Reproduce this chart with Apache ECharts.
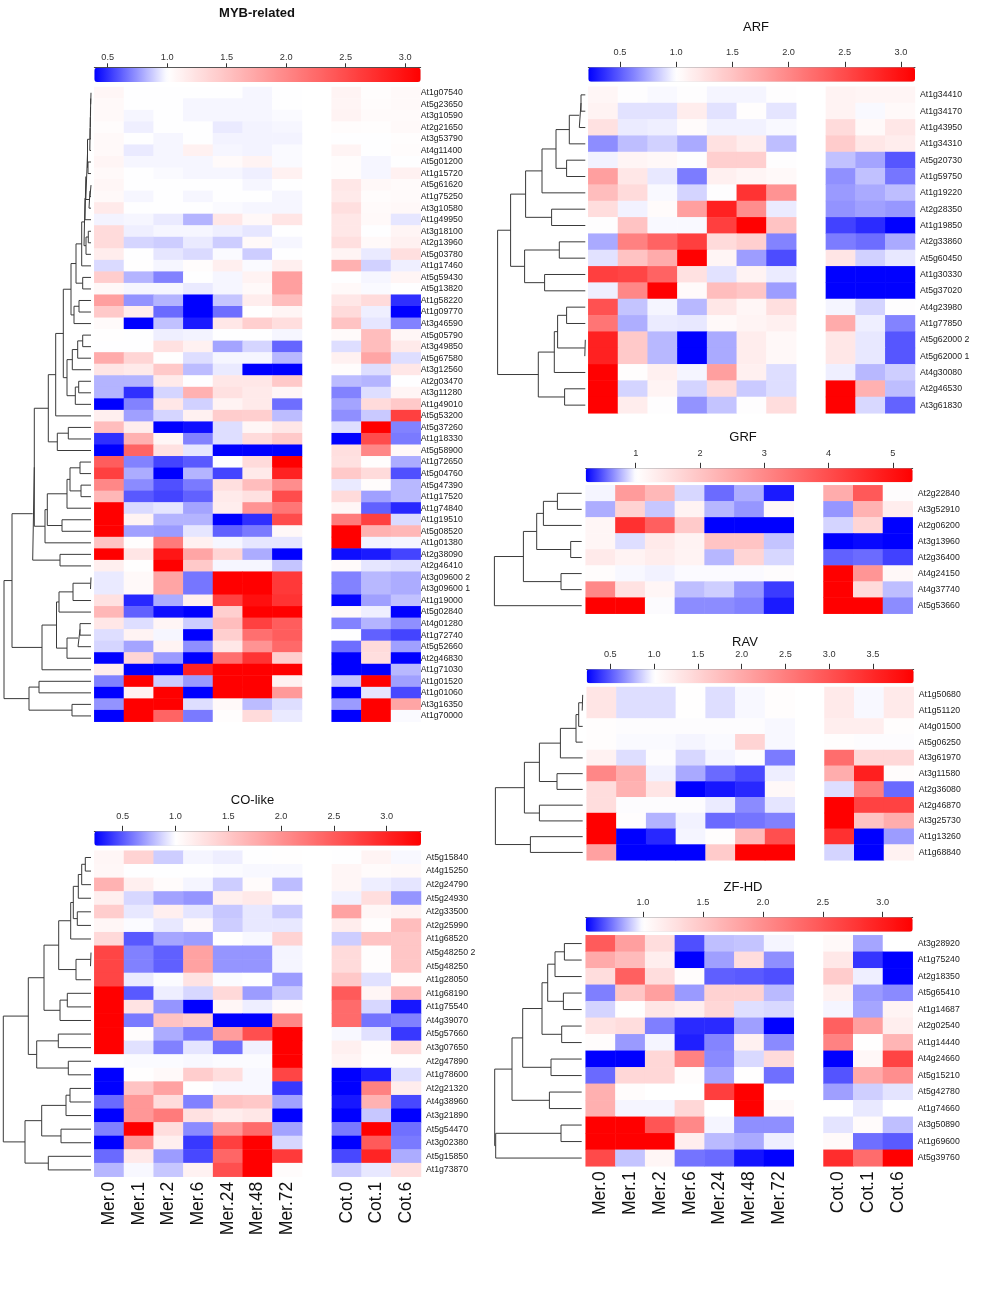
<!DOCTYPE html>
<html><head><meta charset="utf-8">
<style>html,body{margin:0;padding:0;background:#fff}#c{width:1004px;height:1299px}</style>
<script src="https://cdn.jsdelivr.net/npm/echarts@6/dist/echarts.min.js"></script>
</head><body><div id="c"></div>
<script>
const conditions = ['Mer.0','Mer.1','Mer.2','Mer.6','Mer.24','Mer.48','Mer.72','','Cot.0','Cot.1','Cot.6'];

// ---------- MYB-related ----------
const mybGenes = ['At1g07540','At5g23650','At3g10590','At2g21650','At3g53790','At4g11400','At5g01200','At1g15720','At5g61620','At1g75250','At3g10580','At1g49950','At3g18100','At2g13960','At5g03780','At1g17460','At5g59430','At5g13820','At1g58220','At1g09770','At3g46590','At5g05790','At3g49850','At5g67580','At3g12560','At2g03470','At3g11280','At1g49010','At5g53200','At5g37260','At1g18330','At5g58900','At1g72650','At5g04760','At5g47390','At1g17520','At1g74840','At1g19510','At5g08520','At1g01380','At2g38090','At2g46410','At3g09600 2','At3g09600 1','At1g19000','At5g02840','At4g01280','At1g72740','At5g52660','At2g46830','At1g71030','At1g01520','At1g01060','At3g16350','At1g70000'];
const mybValues = [
[1.07,1,1,1,1,.98,1,1.09,1.02,1.05],
[1.05,1,1,.98,.98,.98,1,1.08,1.03,1.05],
[1.05,.98,1,.98,.98,.98,.99,1.1,1.04,1.04],
[1.03,.96,1,1,.95,.97,.98,1.03,1.02,1.05],
[1.05,1,.98,1,.97,.97,.97,1,1,1.02],
[1.05,.95,.98,1.12,.98,.97,.99,1.09,1,1.03],
[1.08,.98,.98,.98,1.04,1.1,.99,1.03,.98,1],
[1.05,1,.99,.98,.98,.96,1.12,1.03,.98,1.12],
[1.07,1,1,1,1,.98,1,1.2,1.06,1.04],
[1.05,.98,1,.98,1,1,.98,1.18,1.03,1.04],
[1.18,1,1,1,.99,.98,.98,1.27,1.04,1.06],
[.97,.98,.95,.82,1.2,1.06,1.22,1.2,1.05,.94],
[1.3,.96,.98,.98,.96,.94,1,1.2,1,1.08],
[1.3,.9,.88,.95,.88,1.05,.98,1.27,1.05,1.12],
[1.15,1,.94,.91,.99,.88,1,1.09,.95,1.27],
[.91,1.01,.98,1.03,1.13,.99,1.13,1.65,.89,.96],
[1.42,.82,.7,1,.98,1.1,1.8,1,.98,1.08],
[1.06,.98,.98,.95,.98,1.05,1.8,1.05,.99,1],
[1.8,.74,.82,.38,.86,1.15,1.55,1.2,1.3,.5],
[1.45,1.15,.64,.38,.65,1.01,1.08,1.3,.96,.38],
[1.04,.38,.85,.45,1.2,1.4,1.28,1.5,.94,.7],
[1.01,1,.96,.97,1,1,.98,1.04,1.55,1.07],
[1,1,1.25,1.12,.78,.9,.63,.92,1.55,1.18],
[1.7,1.35,1.01,.92,.98,.98,.83,1.12,1.75,.92],
[1.22,1.18,1.45,.84,.95,.38,.38,1.03,.92,1.2],
[.82,.82,1.18,1,1.2,1.2,1.45,.84,.82,1],
[.82,.5,.9,1.65,1.25,1.18,1.07,.7,.92,1.08],
[.38,.7,1.2,.89,1.1,1.18,.65,.78,1.3,1.45],
[1.13,.77,.9,1.12,1.42,1.4,.84,.73,.87,2.6],
[1.55,1.15,.38,.42,.92,1.07,1.2,.92,3.13,.7],
[.5,1.65,1.07,.7,.92,1.3,1.45,.38,2.5,.68],
[.38,2.3,1.25,.94,.38,.38,.38,1.27,2,1.06],
[2.35,.7,.55,.6,1,1.3,3.13,1.25,1.02,.8],
[2.6,.8,.38,.82,.55,1.18,2.85,1.45,1.3,.58],
[2,.72,.58,.68,1.27,1.55,1.95,.95,1.03,.83],
[1.6,.6,.55,.62,1.18,1.25,2.5,1.3,.77,.83],
[3.13,.91,.94,.78,1.15,1.9,2.15,1.07,.62,.48],
[3.13,1.1,.82,.82,.38,.5,2.5,2.1,2.6,.91],
[3.13,.77,.76,.94,.62,.68,1.06,3.13,1.65,1.6],
[1.5,1.02,2.1,1.12,.98,.94,.94,3.13,.97,.98],
[3.13,1.22,2.95,1.75,1.35,.8,.38,.42,.45,.55],
[1.13,1.01,3.13,1.45,.98,.98,.86,1.04,.94,.92],
[.95,1.05,1.75,.67,3.13,3.13,2.65,.7,.83,.8],
[.95,1.05,1.75,.67,3.13,3.13,2.65,.7,.83,.8],
[1.25,.48,.8,1.13,2.6,3,2.7,.4,.77,.85],
[1.6,.62,.42,.38,1.4,3.13,3.13,1.05,.96,.38],
[1.2,.92,1.08,.88,1.55,2.6,2.35,.7,.82,.73],
[.92,1.1,.98,.38,1.4,2.2,2.35,1,.62,.55],
[.9,.78,1.1,.73,1.2,1.9,2.25,.65,1.3,.77],
[.38,1.35,.76,.38,2.2,2.7,1.4,.38,1.28,.38],
[1.15,.38,.38,2.85,3.13,3.13,3.13,.38,.38,.83],
[.7,3.13,.88,.76,3.13,3.13,1.12,.86,3.13,.77],
[.38,1.1,3.13,.38,3.13,3.13,1.85,.38,.94,.56],
[.74,3.13,3.13,.92,1.05,.84,.92,.76,3.13,1.75],
[.38,3.13,2.3,.68,1.02,1.3,.95,.38,3.13,.99]];
const mybRange = [0.387,3.13];
const mybTicks = [0.5,1,1.5,2,2.5,3];
// dendrogram: [height, upper, lower]; 0 is the next leaf
const mybTree = [87,
 [79,
  [58.3,
   [56.7,
    [42.7,
     [35.3,
      [27.7,
       [20,
        [15,
         [9.3,
          [7,
           [6,[5.2,[3.5,[1.2,[.9,[.7,[.5,[.3,0,0],0],0],0],0],[3,0,0]],[2,[1,0,0],0]],0],
           [5,[2.7,0,0],0]],
          0],
         [8.3,0,0]],
        [17,[12,0,0],0]],
       [24,[18.7,[13.3,[8.3,0,0],0],0],[15.7,[12.3,0,0],0]]],
      0],
     [33.7,[22.7,0,0],0]],
    [46,[43.7,[24,[21,[11,0,0],[10,0,0]],0],[29,0,0]],0]],
   [31,0,0]],
  [49,[34.5,[32,[18,[.5,0,0],0],0],[24,[13,[11,0,0],0],0]],0]],
 [62,[52,0,0],[19,0,0]]];

// ---------- CO-like ----------
const coGenes = ['At5g15840','At4g15250','At2g24790','At5g24930','At2g33500','At2g25990','At1g68520','At5g48250 2','At5g48250','At1g28050','At1g68190','At1g75540','At4g39070','At5g57660','At3g07650','At2g47890','At1g78600','At2g21320','At4g38960','At3g21890','At5g54470','At3g02380','At5g15850','At1g73870'];
const coValues = [
[1.08,1.4,.85,.97,.95,1,1.01,1,1.1,.98],
[1.07,1,1,1,.99,.98,.98,1.08,1.04,1.06],
[1.7,1.15,1.04,.97,.85,1.04,.8,1.08,.95,.92],
[1.15,.88,.72,.68,1.15,1.2,1.05,.96,1.3,.68],
[1.45,.93,1.15,.92,.83,.93,.84,1.85,1.07,1.12],
[1.08,.99,.93,1.06,.85,.93,.93,1.17,1.02,1.6],
[1.35,.5,.73,.7,1.01,.98,1.4,.85,1.55,1.52],
[2.7,.62,.52,1.85,.68,.68,.97,1.33,1.02,1.52],
[2.7,.62,.52,1.85,.68,.68,.97,1.33,1.02,1.52],
[2.7,.94,.99,1.25,.99,1,.7,1.5,.91,1.03],
[3.33,.5,.95,.88,1.35,.7,.83,2.5,1.08,1.65],
[3.33,1.25,.68,.23,1.08,.95,1.05,2.35,.88,.3],
[3.33,.6,1.55,1.45,.23,.23,2.1,2.35,.58,.62],
[3.33,1.03,.75,.6,1.9,2.6,3.33,.98,.91,.4],
[3.33,.91,.62,.92,.57,.96,3.33,1.13,1.03,1.32],
[1,.99,.99,.98,.99,.99,3.33,1.1,1.02,1.02],
[.23,1.01,1.06,1.45,1.3,.98,2.7,.23,.32,.9],
[.23,1.55,1.85,1.01,.98,.98,.4,.23,2.15,1.17],
[.55,1.95,1.32,.62,1.55,1.5,.72,.3,1.7,.45],
[.23,1.95,2.2,1.27,1.17,1.22,.23,.23,.83,.23],
[.62,3.33,1.3,.65,1.95,2.35,.72,.6,3.33,.57],
[.23,1.95,1.15,.4,2.75,3.33,.88,.23,2.5,.6],
[.55,1.2,.7,.45,2.4,3.33,2.8,.45,3,.75],
[.78,.98,.83,1.12,2.6,3.33,1.03,.85,.93,1.3]];
const coRange = [0.231,3.325];
const coTicks = [0.5,1,1.5,2,2.5,3];
const coTree = [87.7,
 [62.7,
  [47,
   [32.3,
    [20.3,[17.7,[12.7,[9.3,[5.7,0,0],0],0],[13.7,0,0]],0],
    [15,[.5,0,0],0]],
   [31,[23.7,0,0],0]],
  [54.3,[32.7,0,0],[22.7,0,0]]],
 [66,[49.3,[25,[21,0,0],0],[30,0,0]],[42.7,0,0]]];

// ---------- ARF ----------
const arfGenes = ['At1g34410','At1g34170','At1g43950','At1g34310','At5g20730','At1g59750','At1g19220','At2g28350','At1g19850','At2g33860','At5g60450','At1g30330','At5g37020','At4g23980','At1g77850','At5g62000 2','At5g62000 1','At4g30080','At2g46530','At3g61830'];
const arfValues = [
[1.07,1,.98,1,.97,.97,1,1.1,1.08,1.08],
[1.1,.91,.91,1.15,.91,1.02,.92,1.1,.98,1.05],
[1.25,.94,.95,1.03,.96,.96,.98,1.3,1.05,1.2],
[.65,.8,.86,.74,1.25,1.15,.8,1.42,1.2,1.15],
[.96,1.08,1.06,1,1.4,1.4,1,.81,.72,.48],
[1.8,1.2,.93,.6,1.12,1.08,1.05,.66,.81,.58],
[1.55,1.3,.98,.87,1.01,2.7,1.9,.69,.74,.8],
[1.28,.96,1.03,1.8,2.85,1.95,.94,.67,.71,.68],
[1,1.5,.98,.98,2.6,3.12,1.5,.42,.35,.22],
[.74,2.05,2.3,2.6,1.3,1.4,.62,.6,.55,.74],
[.91,1.5,1.7,3.12,1.08,.7,.45,1.22,.86,.93],
[2.6,2.55,2.3,1.25,.91,1.1,.94,.22,.22,.22],
[.95,2,3.12,1.04,1.55,1.48,.7,.22,.22,.22],
[2.45,.82,.97,.78,1.2,1.07,1.27,.97,.87,1.01],
[2.15,.75,.94,.93,1.05,1.09,1.12,1.7,.95,.62],
[2.85,1.45,.78,.22,.74,1.15,1.06,1.2,.93,.48],
[2.85,1.45,.78,.22,.74,1.15,1.06,1.2,.93,.48],
[3.12,1.02,1.12,.97,1.8,1.12,.9,.95,.78,.85],
[3.12,.87,1.09,.87,1.3,.84,.9,3.12,1.65,.8],
[3.12,1.15,1,.67,.82,1,1.28,3.12,.88,.52]];
const arfRange = [0.218,3.125];
const arfTicks = [0.5,1,1.5,2,2.5,3];
const arfTree = [87.7,
 [74.7,
  [59.7,[43.3,[29.3,[16,[6,[4.3,0,0],0],0],[18.7,0,0]],0],[33.7,0,0]],
  [60.7,[26,0,0],[40.7,0,0]]],
 [47,[31,[27.7,[18.7,0,0],[.5,0,0]],0],[20.7,0,0]]];

// ---------- GRF ----------
const grfGenes = ['At2g22840','At3g52910','At2g06200','At3g13960','At2g36400','At4g24150','At4g37740','At5g53660'];
const grfValues = [
[.97,2.7,2.2,.88,.55,.75,.3,2.4,3.8,1.02],
[.75,1.75,.83,1.2,.78,.68,1.12,.68,2.3,1.3],
[1.15,4.5,3.7,1.9,.22,.22,.22,.87,1.7,.22],
[1.15,.9,1.35,1.2,2,2,.82,.22,.25,.22],
[1.35,1.2,1.3,1.2,.78,1.7,.88,.52,.55,.42],
[1.05,.98,.96,.99,.99,.99,1.02,5.31,2.8,1.12],
[3,1.5,1.15,.8,.85,.68,.4,5.31,1.6,.8],
[5.31,5.31,1,.65,.65,.62,.3,5.31,5.31,.65]];
const grfRange = [0.222,5.31];
const grfTicks = [1,2,3,4,5];
const grfTree = [87.3,
 [58.3,[45,[38.3,[24.3,0,0],0],[11,0,0]],[20.7,0,0]],
 0];

// ---------- RAV ----------
const ravGenes = ['At1g50680','At1g51120','At4g01500','At5g06250','At3g61970','At3g11580','At2g36080','At2g46870','At3g25730','At1g13260','At1g68840'];
const ravValues = [
[1.3,.9,.9,1.01,.9,.98,1.02,1.25,.98,1.25],
[1.3,.9,.9,1.01,.9,.98,1.02,1.25,.98,1.25],
[1.03,1,1,1,1,1,.98,1.2,1.2,1.03],
[1.03,.99,.99,.97,.99,1.5,.98,1.02,1,1],
[1.15,.9,1,.88,.97,1,.6,2.7,1.45,1.45],
[2.4,1.95,.96,.74,.55,.45,.95,1.95,3.6,1.04],
[1.4,1.9,1.3,.23,.3,.35,1.08,.9,2.5,.55],
[1.4,1,1,1,.94,.65,.92,3.965,3.2,3.2],
[3.965,1.03,.77,.96,.55,.58,.62,3.965,1.7,1.95],
[3.965,.23,.35,.97,1.02,1.8,3.05,3.4,.23,.7],
[2.1,.23,.23,.23,1.6,3.965,3.965,.87,.23,1.15]];
const ravRange = [0.23,3.965];
const ravTicks = [0.5,1,1.5,2,2.5,3,3.5];
const ravTree = [87.3,
 [58.3,
  [43.3,[22.3,[6.7,[4,[.5,0,0],0],0],0],[25.7,0,0]],
  [43.3,0,0]],
 [52.3,0,0]];

// ---------- ZF-HD ----------
const zfGenes = ['At3g28920','At1g75240','At2g18350','At5g65410','At1g14687','At2g02540','At1g14440','At4g24660','At5g15210','At5g42780','At1g74660','At3g50890','At1g69600','At5g39760'];
const zfValues = [
[2.45,1.85,1.3,.67,.88,.89,.98,1.05,.83,1],
[1.75,1.6,1.15,.52,.82,1.3,.79,1.2,.62,.52],
[1.3,2.4,1.3,1.02,.7,.69,.67,1.45,.97,.52],
[.76,1.5,1.85,.81,1.4,1.4,.87,1.13,.81,.78],
[.92,1.01,1.22,1.15,1.35,.94,.93,.98,.83,1.1],
[1.25,1.3,.76,.6,.6,.82,.52,2.4,1.85,1.15],
[1.02,.81,.98,.58,.77,1.12,.78,2.1,1.01,1.65],
[.52,.52,1.35,2.1,.78,.93,1.32,.52,1.07,2.65],
[.72,1.35,1.35,1.02,.83,1.01,.73,.68,1.75,2],
[1.7,1.02,1,1,2.7,3.25,1,.82,.91,.95],
[1.7,.98,.98,1.35,1,3.25,1.05,1,.96,1],
[3.25,3.25,2.5,2.05,.98,.79,.79,.95,1.03,.88],
[3.25,3.25,3.25,1.15,.87,.84,.97,1.04,.73,.69],
[2.6,.89,1.08,.74,.72,.56,.52,2.85,2.3,3.25]];
const zfRange = [0.522,3.25];
const zfTicks = [1,1.5,2,2.5,3];
const zfTree = [87,
 [69.7,
  [59,
   [39.7,[34,[26.7,[17.3,0,0],0],[18.3,0,0]],[20,0,0]],
   [30.7,0,0]],
  [32.3,0,0]],
 [86,[20.7,0,0],0]];

// ---------- assembly ----------
const panels = [
 {title:'MYB-related',bold:true,tx:257,ty:13,genes:mybGenes,values:mybValues,range:mybRange,ticks:mybTicks,tree:mybTree,digits:1,
  left:94.3,right:420.7,top:87,bottom:721.7,barTop:67.7,barH:14.3,leaf:91,gap:0,xlabels:false,tickLen:4.4,tickGap:5},
 {title:'CO-like',tx:252.5,ty:800,genes:coGenes,values:coValues,range:coRange,ticks:coTicks,tree:coTree,digits:1,
  left:94.3,right:421,top:850.7,bottom:1176.7,barTop:831.3,barH:14.4,leaf:91,gap:5,xlabels:true,tickLen:5.5,tickGap:9},
 {title:'ARF',tx:756,ty:27,genes:arfGenes,values:arfValues,range:arfRange,ticks:arfTicks,tree:arfTree,digits:1,
  left:588.3,right:915,top:86.7,bottom:413.3,barTop:67.3,barH:14.4,leaf:585.3,gap:5,xlabels:false,tickLen:5.5,tickGap:9},
 {title:'GRF',tx:743,ty:437,genes:grfGenes,values:grfValues,range:grfRange,ticks:grfTicks,tree:grfTree,digits:0,
  left:585.7,right:912.7,top:485.3,bottom:613.7,barTop:468.3,barH:14,leaf:581.7,gap:5,xlabels:false,tickLen:5.5,tickGap:9},
 {title:'RAV',tx:745,ty:642,genes:ravGenes,values:ravValues,range:ravRange,ticks:ravTicks,tree:ravTree,digits:1,
  left:586.7,right:913.7,top:687,bottom:860.3,barTop:669.3,barH:14,leaf:582.7,gap:5,xlabels:false,tickLen:5.5,tickGap:9},
 {title:'ZF-HD',tx:743,ty:887,genes:zfGenes,values:zfValues,range:zfRange,ticks:zfTicks,tree:zfTree,digits:1,
  left:585.7,right:912.7,top:935.3,bottom:1166.3,barTop:917.3,barH:14.4,leaf:581.7,gap:5,xlabels:true,tickLen:5.5,tickGap:9}
];
const FONT = '"Liberation Sans", Arial, sans-serif';

function ramp(min,max){
  const N=120, out=[];
  const hex=n=>Math.round(n).toString(16).padStart(2,'0');
  for(let i=0;i<=N;i++){
    const v=min+(max-min)*i/N;
    if(v<=1){const t=(v-min)/(1-min)*255;out.push('#'+hex(t)+hex(t)+'ff');}
    else{const t=255-(v-1)/(max-1)*255;out.push('#ff'+hex(t)+hex(t));}
  }
  return out;
}
function treeSegments(tree){
  let leaf=0; const pts=[];
  const brk=()=>pts.push(['-','-']);
  (function walk(n){
    if(n===0) return {y:leaf++,h:0};
    const a=walk(n[1]), b=walk(n[2]);
    pts.push([a.h,a.y],[n[0],a.y],[n[0],b.y],[b.h,b.y]); brk();
    return {y:(a.y+b.y)/2,h:n[0]};
  })(tree);
  return pts;
}

const option={animation:false,backgroundColor:'#fff',title:[],grid:[],xAxis:[],yAxis:[],series:[],visualMap:[]};
panels.forEach(p=>{
  option.title.push({text:p.title,left:p.tx,top:p.ty,padding:0,textAlign:'center',textVerticalAlign:'middle',
    textStyle:{fontFamily:FONT,fontSize:13,fontWeight:p.bold?'bold':'normal',color:'#111'}});
  // heat map
  let g=option.grid.length;
  option.grid.push({left:p.left,top:p.top,width:p.right-p.left,height:p.bottom-p.top,containLabel:false});
  option.xAxis.push({gridIndex:g,type:'category',data:conditions,position:'bottom',axisLine:{show:false},axisTick:{show:false},splitLine:{show:false},
    axisLabel:{show:p.xlabels,interval:0,rotate:90,margin:5,fontFamily:FONT,fontSize:17.5,color:'#111'}});
  option.yAxis.push({gridIndex:g,type:'category',inverse:true,position:'right',data:p.genes,axisLine:{show:false},axisTick:{show:false},splitLine:{show:false},
    axisLabel:{interval:0,margin:p.gap,fontFamily:FONT,fontSize:8.7,color:'#222',hideOverlap:false}});
  const cells=[];
  p.values.forEach((row,r)=>row.forEach((v,c)=>cells.push([c<7?c:c+1,r,v])));
  const sIdx=option.series.length;
  option.series.push({type:'heatmap',xAxisIndex:g,yAxisIndex:g,data:cells,progressive:0,itemStyle:{borderWidth:0},emphasis:{disabled:true}});
  option.visualMap.push({type:'continuous',seriesIndex:sIdx,min:p.range[0],max:p.range[1],orient:'horizontal',
    left:p.left,top:p.barTop,itemWidth:p.barH,itemHeight:p.right-p.left,padding:0,calculable:false,realtime:false,hoverLink:false,
    text:null,showLabel:false,inRange:{color:ramp(p.range[0],p.range[1])}});
  // colour-key axis
  g=option.grid.length;
  option.grid.push({left:p.left,top:p.barTop-1,width:p.right-p.left,height:1});
  option.xAxis.push({gridIndex:g,type:'value',position:'top',min:p.range[0],max:p.range[1],splitLine:{show:false},
    axisLine:{show:true,lineStyle:{color:'#444',width:1}},
    axisTick:{show:true,length:p.tickLen,inside:false,customValues:p.ticks,lineStyle:{color:'#333',width:1}},
    axisLabel:{show:true,customValues:p.ticks,margin:p.tickGap,fontFamily:FONT,fontSize:9.2,color:'#333',formatter:v=>(+v).toFixed(p.digits)}});
  option.yAxis.push({gridIndex:g,type:'value',show:false,min:0,max:1});
  // dendrogram
  g=option.grid.length;
  const W=88;
  option.grid.push({left:p.leaf-W,top:p.top,width:W,height:p.bottom-p.top});
  option.xAxis.push({gridIndex:g,type:'value',inverse:true,show:false,min:0,max:W});
  option.yAxis.push({gridIndex:g,type:'value',inverse:true,show:false,min:-0.5,max:p.genes.length-0.5});
  option.series.push({type:'line',xAxisIndex:g,yAxisIndex:g,data:treeSegments(p.tree),showSymbol:false,symbol:'none',clip:false,
    connectNulls:false,lineStyle:{color:'#3a3a3a',width:1},silent:true,emphasis:{disabled:true}});
});
echarts.init(document.getElementById('c'),null,{renderer:'canvas'}).setOption(option);
</script>
</body></html>
